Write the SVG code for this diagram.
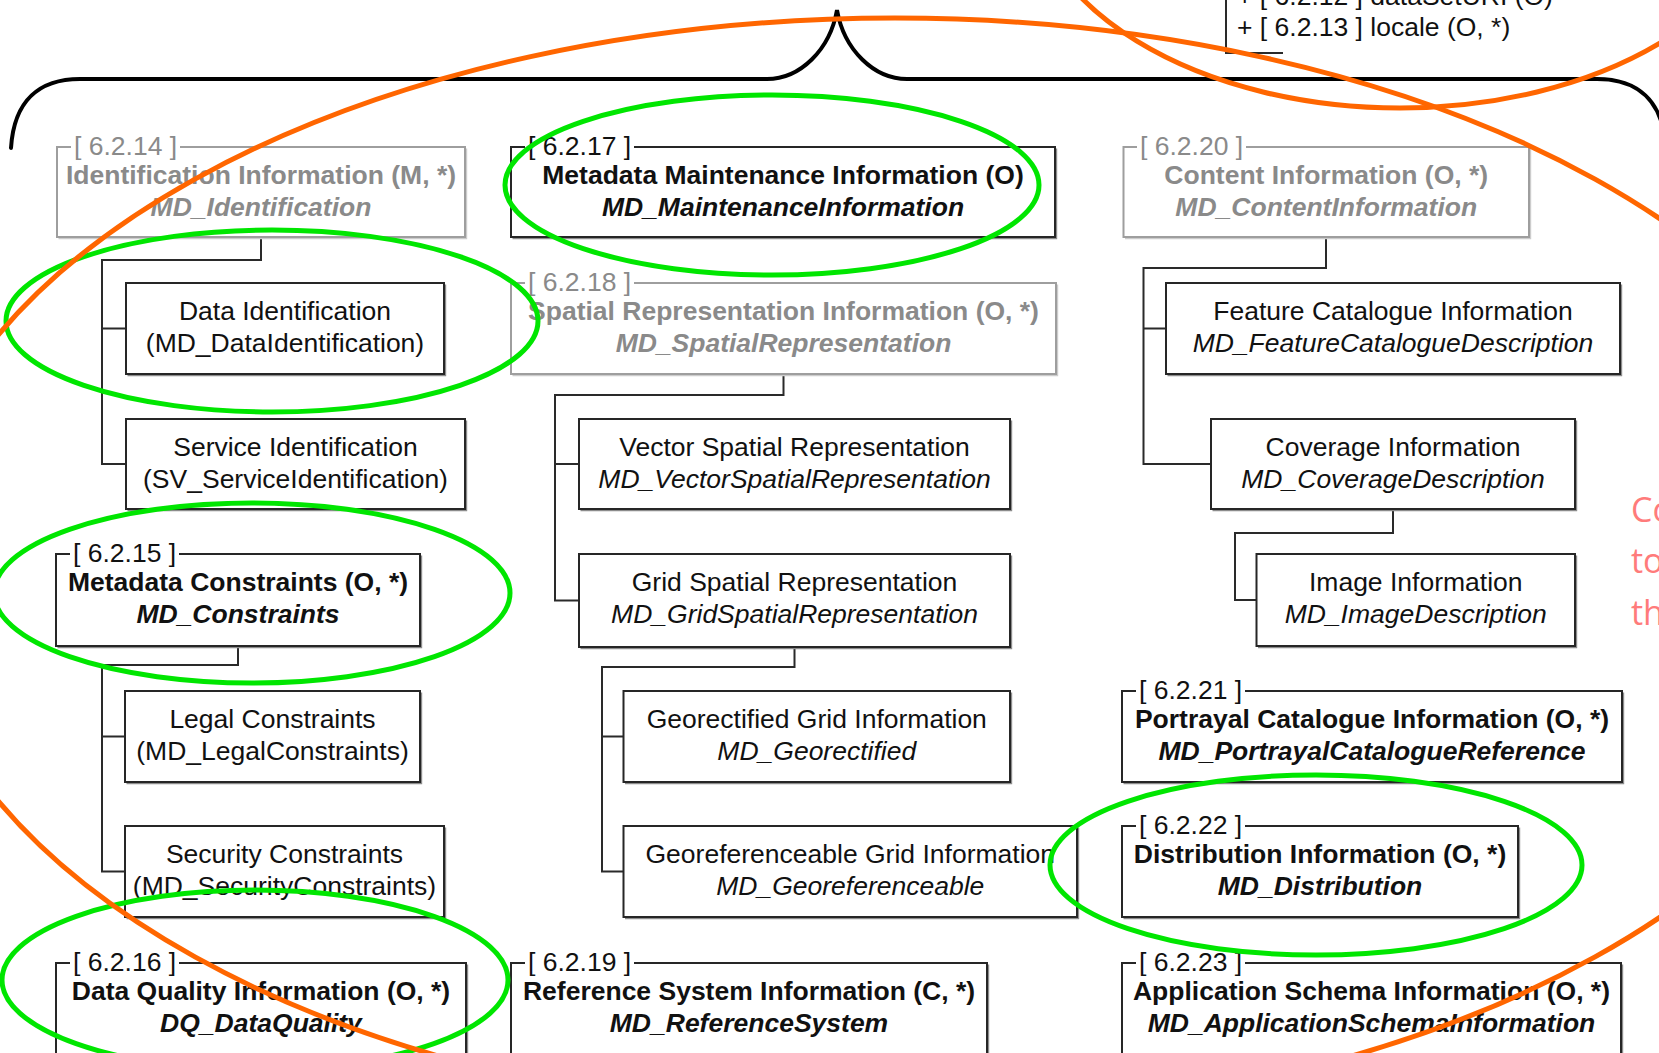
<svg xmlns="http://www.w3.org/2000/svg" width="1659" height="1053" viewBox="0 0 1659 1053">
  <style>
    .t { font-family: "Liberation Sans", Arial, sans-serif; font-size: 26.5px; }
    .c { text-anchor: middle; }
    .b { font-weight: bold; }
    .i { font-style: italic; }
    .ink { fill: #111; }
    .dim { fill: #8a8a8a; }
    .box { fill: none; stroke: #262626; stroke-width: 2; }
    .gbox { fill: none; stroke: #9e9e9e; stroke-width: 2; }
    .sh { fill: none; stroke: #8c8c8c; stroke-width: 1.4; }
    .gsh { fill: none; stroke: #cccccc; stroke-width: 1.4; }
    .wire { fill: none; stroke: #2a2a2a; stroke-width: 2; }
    .brace { fill: none; stroke: #000; stroke-width: 4; stroke-linecap: round; }
    .green { fill: none; stroke: #00e600; stroke-width: 5; }
    .orange { fill: none; stroke: #ff6600; stroke-width: 5; }
    .note { font-family: "Open Sans", "Noto Sans", sans-serif; font-size: 34px; fill: #ff7b7b; }
  </style>

  <rect x="0" y="0" width="1659" height="1053" fill="#fff"/>

  <!-- curly brace grouping the sections -->
  <path class="brace" d="M 11,148 C 14,100 40,79 80,79 H 767 C 800,79 830,50 837,10 C 844,50 874,79 907,79 H 1597 C 1637,79 1663,100 1666,148"/>

  <!-- attribute list of the parent class, above the brace -->
  <g id="parent-attributes">
    <path class="wire" d="M 1226,-5 V 53 H 1283"/>
    <text class="t ink" x="1237" y="5">+ [ 6.2.12 ] dataSetURI (O)</text>
    <text class="t ink" x="1237" y="36">+ [ 6.2.13 ] locale (O, *)</text>
  </g>

  <!-- connectors -->
  <g id="connectors">
    <path class="wire" d="M 261,237 V 260 H 102 V 464 H 126 M 102,328.5 H 126"/>
    <path class="wire" d="M 238,646 V 665 H 102 V 871.5 H 125 M 102,736.5 H 125"/>
    <path class="wire" d="M 783.5,374 V 395 H 555 V 600.5 H 579 M 555,464 H 579"/>
    <path class="wire" d="M 794.5,647 V 667 H 602 V 871.5 H 623.5 M 602,736.5 H 623.5"/>
    <path class="wire" d="M 1326,237 V 268 H 1143.5 V 464 H 1211 M 1143.5,328.5 H 1166"/>
    <path class="wire" d="M 1393,509 V 533 H 1235 V 600 H 1256.5"/>
  </g>

  <!-- column 1 -->
  <g id="n-6-2-14">
    <path class="gsh" d="M 58.5,238.5 H 466.5 V 148.5"/>
    <path class="gbox" d="M 180,147 H 465 V 237 H 57 V 147 H 71"/>
    <text class="t dim" x="74" y="155">[ 6.2.14 ]</text>
    <text class="t c b dim" x="261" y="184">Identification Information (M, *)</text>
    <text class="t c b i dim" x="261" y="216">MD_Identification</text>
  </g>
  <g id="n-data-identification">
    <path class="sh" d="M 127.5,375.5 H 445.5 V 284.5"/>
    <rect class="box" x="126" y="283" width="318" height="91"/>
    <text class="t c ink" x="285" y="320">Data Identification</text>
    <text class="t c ink" x="285" y="352">(MD_DataIdentification)</text>
  </g>
  <g id="n-service-identification">
    <path class="sh" d="M 127.5,510.5 H 466.5 V 420.5"/>
    <rect class="box" x="126" y="419" width="339" height="90"/>
    <text class="t c ink" x="295.5" y="456">Service Identification</text>
    <text class="t c ink" x="295.5" y="488">(SV_ServiceIdentification)</text>
  </g>
  <g id="n-6-2-15">
    <path class="sh" d="M 57.5,647.5 H 421.5 V 555.5"/>
    <path class="box" d="M 179,554 H 420 V 646 H 56 V 554 H 70"/>
    <text class="t ink" x="73" y="562">[ 6.2.15 ]</text>
    <text class="t c b ink" x="238" y="591">Metadata Constraints (O, *)</text>
    <text class="t c b i ink" x="238" y="623">MD_Constraints</text>
  </g>
  <g id="n-legal-constraints">
    <path class="sh" d="M 126.5,783.5 H 421.5 V 692.5"/>
    <rect class="box" x="125" y="691" width="295" height="91"/>
    <text class="t c ink" x="272.5" y="728">Legal Constraints</text>
    <text class="t c ink" x="272.5" y="760">(MD_LegalConstraints)</text>
  </g>
  <g id="n-security-constraints">
    <path class="sh" d="M 126.5,918.5 H 445.5 V 827.5"/>
    <rect class="box" x="125" y="826" width="319" height="91"/>
    <text class="t c ink" x="284.5" y="863">Security Constraints</text>
    <text class="t c ink" x="284.5" y="895">(MD_SecurityConstraints)</text>
  </g>
  <g id="n-6-2-16">
    <path class="sh" d="M 467.5,964.5 V 1060"/>
    <path class="box" d="M 179,963 H 466 V 1060 M 56,1060 V 963 H 70"/>
    <text class="t ink" x="73" y="971">[ 6.2.16 ]</text>
    <text class="t c b ink" x="261" y="1000">Data Quality Information (O, *)</text>
    <text class="t c b i ink" x="261" y="1032">DQ_DataQuality</text>
  </g>

  <!-- column 2 -->
  <g id="n-6-2-17">
    <path class="sh" d="M 512.5,238.5 H 1056.5 V 148.5"/>
    <path class="box" d="M 634,147 H 1055 V 237 H 511 V 147 H 525"/>
    <text class="t ink" x="528" y="155">[ 6.2.17 ]</text>
    <text class="t c b ink" x="783" y="184">Metadata Maintenance Information (O)</text>
    <text class="t c b i ink" x="783" y="216">MD_MaintenanceInformation</text>
  </g>
  <g id="n-6-2-18">
    <path class="gsh" d="M 512.5,375.5 H 1057.5 V 284.5"/>
    <path class="gbox" d="M 634,283 H 1056 V 374 H 511 V 283 H 525"/>
    <text class="t dim" x="528" y="291">[ 6.2.18 ]</text>
    <text class="t c b dim" x="783.5" y="320">Spatial Representation Information (O, *)</text>
    <text class="t c b i dim" x="783.5" y="352">MD_SpatialRepresentation</text>
  </g>
  <g id="n-vector-spatial">
    <path class="sh" d="M 580.5,510.5 H 1011.5 V 420.5"/>
    <rect class="box" x="579" y="419" width="431" height="90"/>
    <text class="t c ink" x="794.5" y="456">Vector Spatial Representation</text>
    <text class="t c i ink" x="794.5" y="488">MD_VectorSpatialRepresentation</text>
  </g>
  <g id="n-grid-spatial">
    <path class="sh" d="M 580.5,648.5 H 1011.5 V 555.5"/>
    <rect class="box" x="579" y="554" width="431" height="93"/>
    <text class="t c ink" x="794.5" y="591">Grid Spatial Representation</text>
    <text class="t c i ink" x="794.5" y="623">MD_GridSpatialRepresentation</text>
  </g>
  <g id="n-georectified">
    <path class="sh" d="M 625,783.5 H 1011.5 V 692.5"/>
    <rect class="box" x="623.5" y="691" width="386.5" height="91"/>
    <text class="t c ink" x="816.75" y="728">Georectified Grid Information</text>
    <text class="t c i ink" x="816.75" y="760">MD_Georectified</text>
  </g>
  <g id="n-georeferenceable">
    <path class="sh" d="M 625,918.5 H 1078.5 V 827.5"/>
    <rect class="box" x="623.5" y="826" width="453.5" height="91"/>
    <text class="t c ink" x="850.25" y="863">Georeferenceable Grid Information</text>
    <text class="t c i ink" x="850.25" y="895">MD_Georeferenceable</text>
  </g>
  <g id="n-6-2-19">
    <path class="sh" d="M 988.5,964.5 V 1060"/>
    <path class="box" d="M 634,963 H 987 V 1060 M 511,1060 V 963 H 525"/>
    <text class="t ink" x="528" y="971">[ 6.2.19 ]</text>
    <text class="t c b ink" x="749" y="1000">Reference System Information (C, *)</text>
    <text class="t c b i ink" x="749" y="1032">MD_ReferenceSystem</text>
  </g>

  <!-- column 3 -->
  <g id="n-6-2-20">
    <path class="gsh" d="M 1125,238.5 H 1530.5 V 148.5"/>
    <path class="gbox" d="M 1246,147 H 1529 V 237 H 1123.5 V 147 H 1137"/>
    <text class="t dim" x="1140" y="155">[ 6.2.20 ]</text>
    <text class="t c b dim" x="1326.25" y="184">Content Information (O, *)</text>
    <text class="t c b i dim" x="1326.25" y="216">MD_ContentInformation</text>
  </g>
  <g id="n-feature-catalogue">
    <path class="sh" d="M 1167.5,375.5 H 1621.5 V 284.5"/>
    <rect class="box" x="1166" y="283" width="454" height="91"/>
    <text class="t c ink" x="1393" y="320">Feature Catalogue Information</text>
    <text class="t c i ink" x="1393" y="352">MD_FeatureCatalogueDescription</text>
  </g>
  <g id="n-coverage">
    <path class="sh" d="M 1212.5,510.5 H 1576.5 V 420.5"/>
    <rect class="box" x="1211" y="419" width="364" height="90"/>
    <text class="t c ink" x="1393" y="456">Coverage Information</text>
    <text class="t c i ink" x="1393" y="488">MD_CoverageDescription</text>
  </g>
  <g id="n-image">
    <path class="sh" d="M 1258,647.5 H 1576.5 V 555.5"/>
    <rect class="box" x="1256.5" y="554" width="318.5" height="92"/>
    <text class="t c ink" x="1415.75" y="591">Image Information</text>
    <text class="t c i ink" x="1415.75" y="623">MD_ImageDescription</text>
  </g>
  <g id="n-6-2-21">
    <path class="sh" d="M 1123.5,783.5 H 1623.5 V 692.5"/>
    <path class="box" d="M 1245,691 H 1622 V 782 H 1122 V 691 H 1136"/>
    <text class="t ink" x="1139" y="699">[ 6.2.21 ]</text>
    <text class="t c b ink" x="1372" y="728">Portrayal Catalogue Information (O, *)</text>
    <text class="t c b i ink" x="1372" y="760">MD_PortrayalCatalogueReference</text>
  </g>
  <g id="n-6-2-22">
    <path class="sh" d="M 1123.5,918.5 H 1519.5 V 827.5"/>
    <path class="box" d="M 1245,826 H 1518 V 917 H 1122 V 826 H 1136"/>
    <text class="t ink" x="1139" y="834">[ 6.2.22 ]</text>
    <text class="t c b ink" x="1320" y="863">Distribution Information (O, *)</text>
    <text class="t c b i ink" x="1320" y="895">MD_Distribution</text>
  </g>
  <g id="n-6-2-23">
    <path class="sh" d="M 1622.5,964.5 V 1060"/>
    <path class="box" d="M 1245,963 H 1621 V 1060 M 1122,1060 V 963 H 1136"/>
    <text class="t ink" x="1139" y="971">[ 6.2.23 ]</text>
    <text class="t c b ink" x="1371.5" y="1000">Application Schema Information (O, *)</text>
    <text class="t c b i ink" x="1371.5" y="1032">MD_ApplicationSchemaInformation</text>
  </g>

  <!-- margin note, cut by the right edge -->
  <g id="margin-note">
    <text class="note" x="1631" y="522">Co</text>
    <text class="note" x="1631" y="573">to</text>
    <text class="note" x="1631" y="625">th</text>
  </g>

  <!-- hand-drawn highlight marks -->
  <g id="highlights">
    <ellipse class="green" cx="772" cy="185" rx="267" ry="90"/>
    <ellipse class="green" cx="272" cy="321" rx="266" ry="91"/>
    <ellipse class="green" cx="252" cy="593" rx="258" ry="90"/>
    <ellipse class="green" cx="255" cy="980" rx="253" ry="90"/>
    <ellipse class="green" cx="1316" cy="865" rx="266" ry="90"/>
    <ellipse class="orange" cx="895" cy="568" rx="990" ry="550"/>
    <ellipse class="orange" cx="1400" cy="-120" rx="372" ry="228"/>
  </g>
</svg>
